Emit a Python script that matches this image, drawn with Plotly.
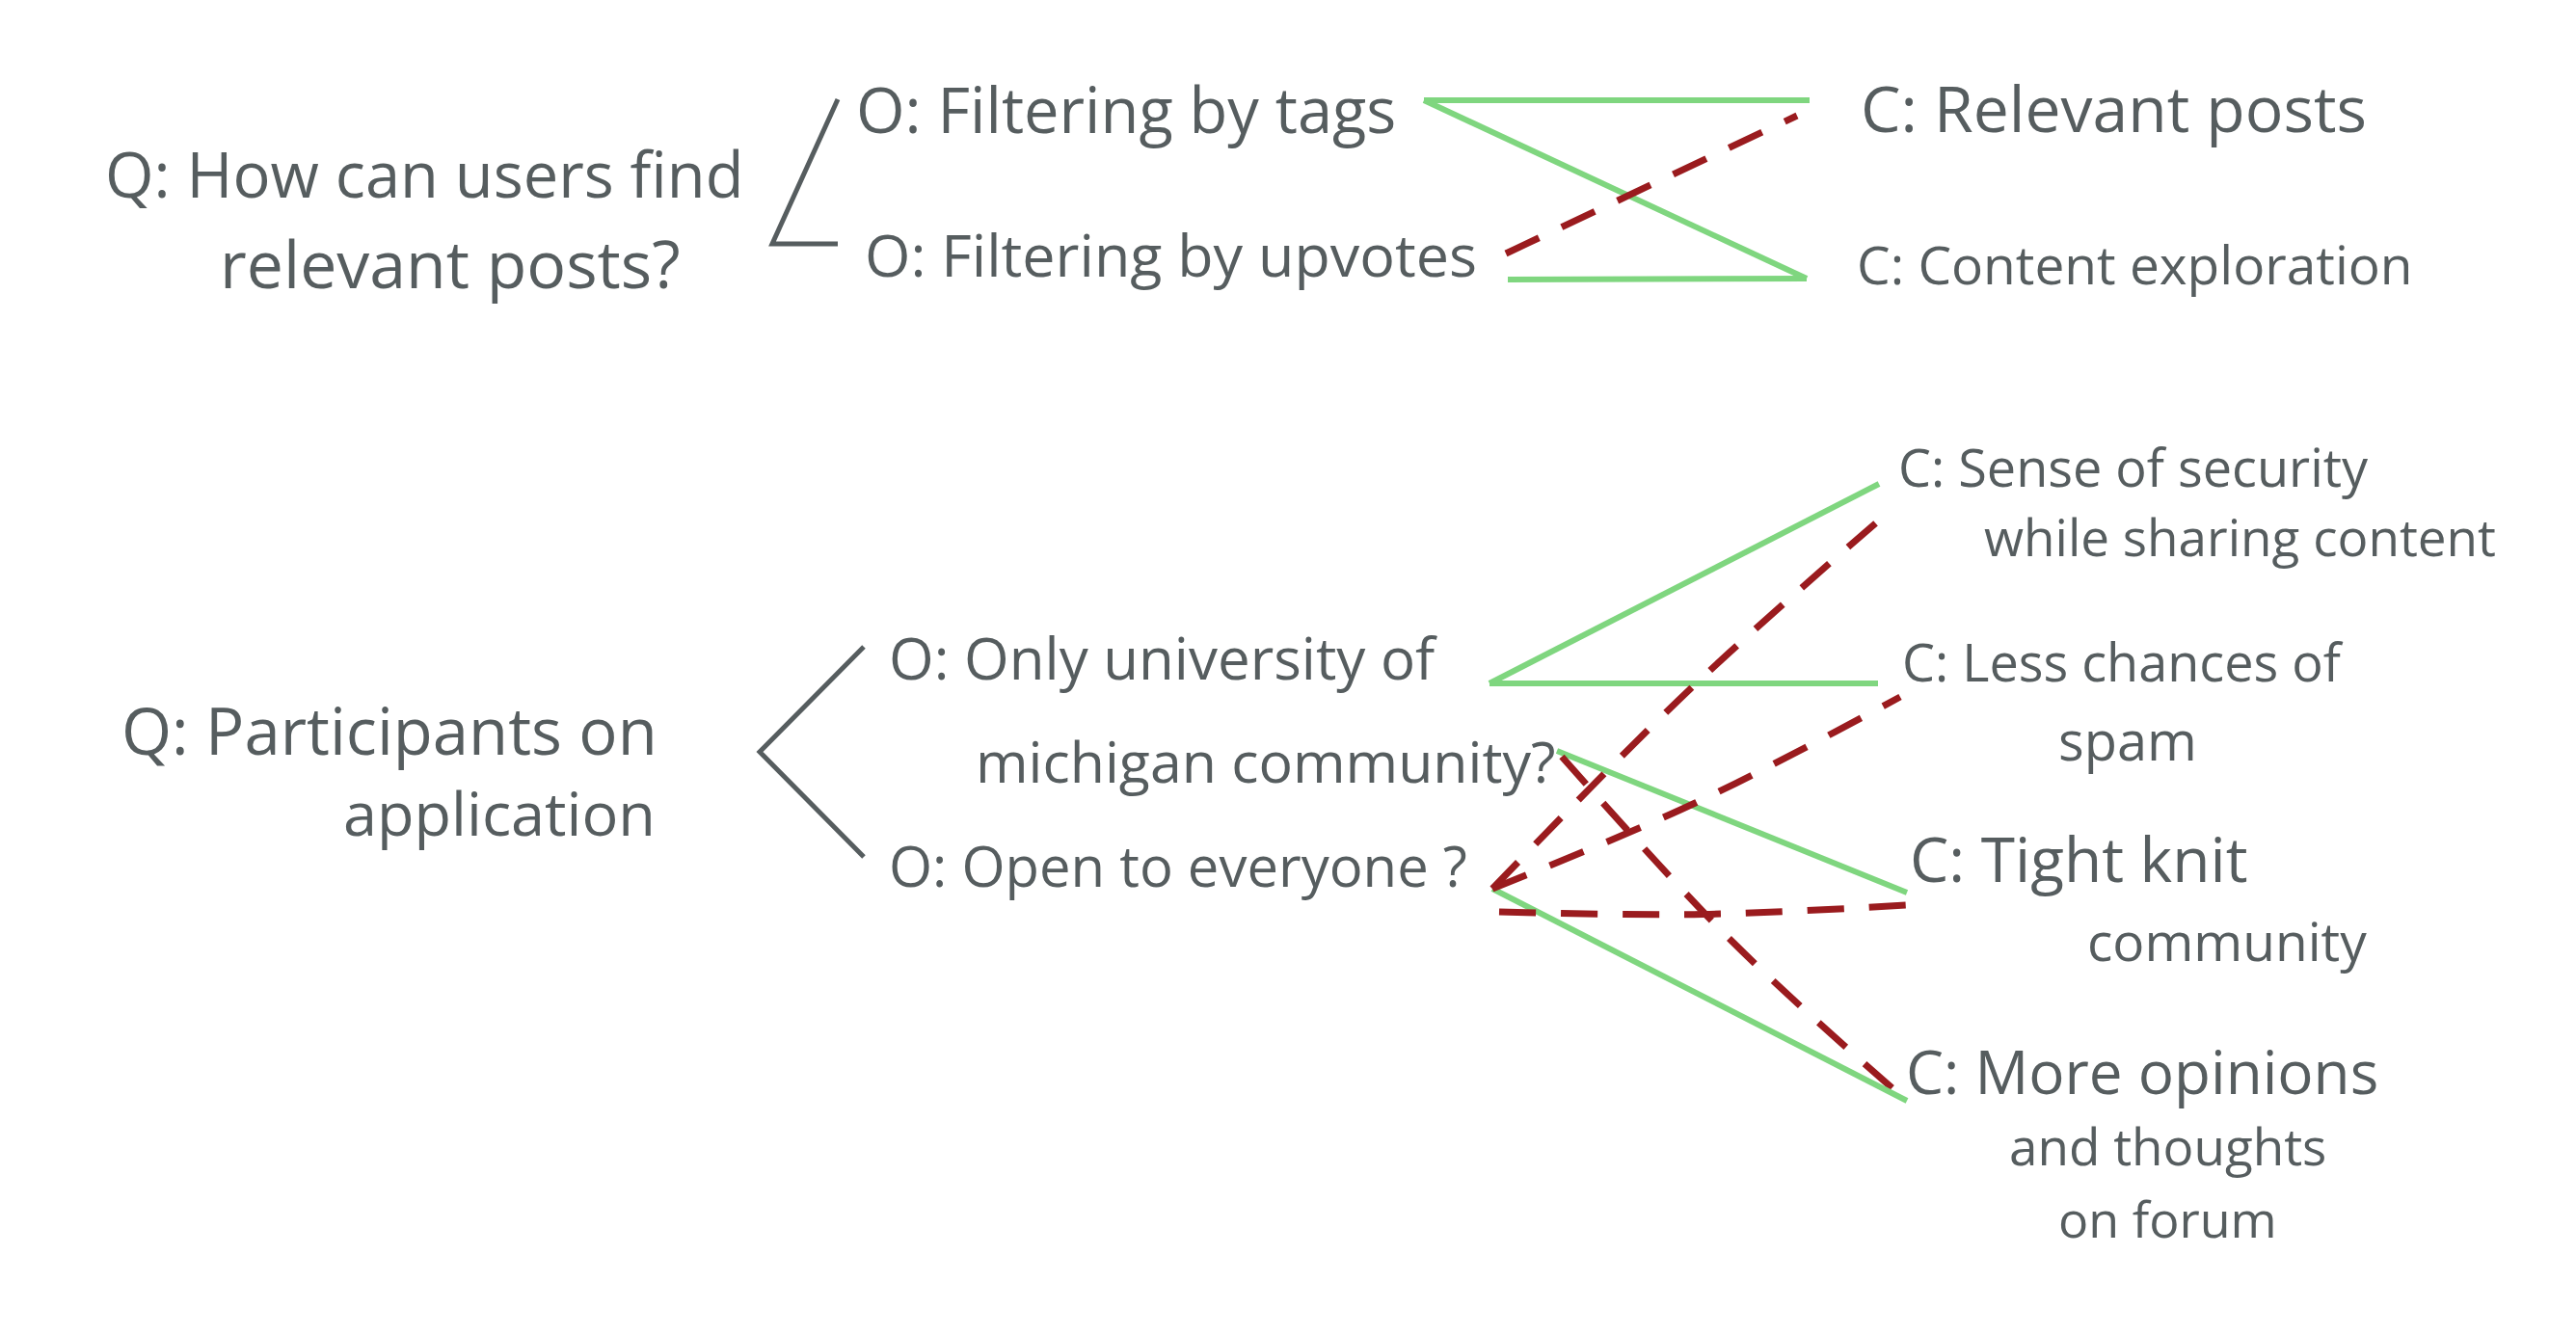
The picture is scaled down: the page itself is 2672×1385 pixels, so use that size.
import plotly.graph_objects as go

# Cores
COLORS = {
    'texto': '#565d5f',
    'pro': '#7fd67f',
    'contra': '#9a1b1e',
}
FONT = "Open Sans"

# ---- Conteudo do diagrama (questao -> opcoes -> criterios) ----
questions = [
    ["Q: How can users find", "relevant posts?"],
    ["Q: Participants on", "application"],
]
options = [
    ["O: Filtering by tags"],
    ["O: Filtering by upvotes"],
    ["O: Only university of", "michigan community?"],
    ["O: Open to everyone ?"],
]
option_question = [0, 0, 1, 1]
criteria = [
    ["C: Relevant posts"],
    ["C: Content exploration"],
    ["C: Sense of security", "while sharing content"],
    ["C: Less chances of", "spam"],
    ["C: Tight knit", "community"],
    ["C: More opinions", "and thoughts", "on forum"],
]
# ligacoes opcao -> criterio ('+' apoia, '-' contraria)
link_from = [0, 0, 1, 1, 2, 2, 2, 2, 3, 3, 3, 3]
link_to = [0, 1, 1, 0, 2, 3, 4, 5, 5, 2, 3, 4]
link_kind = ['+', '+', '+', '-', '+', '+', '+', '-', '+', '-', '-', '-']

# ---- Layout (coordenadas = pixels da pagina) ----
W, H = 2672, 1385
PAD = 8  # margem padrao do <body>

Q_POS = [[(111, 203), (230, 296)], [(128, 780), (358, 865)]]
Q_FS = [[65, 68], [67, 63]]
O_POS = [[(890, 136)], [(899, 285)], [(924, 703), (1014, 810)], [(924, 918)]]
O_FS = [[65], [61], [60, 59], [58]]
C_POS = [[(1932, 134)], [(1928, 293)], [(1971, 503), (2060, 575)],
         [(1975, 705), (2137, 787)], [(1983, 913), (2167, 995)],
         [(1979, 1133), (2086, 1207), (2137, 1282)]]
C_FS = [[66], [55], [54, 53], [54, 56], [64, 55], [62, 53, 52]]

Q_FORK = [(801, 253), (788, 780)]
O_IN = [(869, 103), (869, 253), (896, 671), (896, 889)]
O_OUT = [
    [(1477, 104)],
    [(1564, 290), (1562, 263)],
    [(1545, 709), (1615, 779), (1620, 785)],
    [(1548, 922), (1555, 946)],
]
C_IN = [
    [(1877, 104), (1864, 120)],
    [(1874, 289)],
    [(1949, 502), (1958, 532)],
    [(1948, 709), (1971, 723)],
    [(1978, 926), (1978, 939)],
    [(1978, 1142), (1972, 1137)],
]
LINK_PORT_FROM = [0, 0, 0, 1, 0, 0, 1, 2, 0, 0, 0, 1]
LINK_PORT_TO = [0, 0, 0, 1, 0, 0, 0, 1, 0, 1, 1, 1]
LINK_BEND = [0, 0, 0, 0, 0, 0, 0, 15, 0, -12, 10, 6]

fig = go.Figure()

# colchetes questao -> opcoes
for qi, fork in enumerate(Q_FORK):
    opts = [i for i, q in enumerate(option_question) if q == qi]
    xs = [O_IN[opts[0]][0], fork[0], O_IN[opts[-1]][0]]
    ys = [O_IN[opts[0]][1], fork[1], O_IN[opts[-1]][1]]
    fig.add_trace(go.Scatter(x=xs, y=ys, mode='lines', hoverinfo='skip',
                             line=dict(color=COLORS['texto'], width=5)))

# ligacoes
for i in range(len(link_from)):
    a = O_OUT[link_from[i]][LINK_PORT_FROM[i]]
    b = C_IN[link_to[i]][LINK_PORT_TO[i]]
    pro = link_kind[i] == '+'
    if LINK_BEND[i]:
        mid = ((a[0] + b[0]) / 2, (a[1] + b[1]) / 2 + LINK_BEND[i])
        xs, ys, shape = [a[0], mid[0], b[0]], [a[1], mid[1], b[1]], 'spline'
    else:
        xs, ys, shape = [a[0], b[0]], [a[1], b[1]], 'linear'
    fig.add_trace(go.Scatter(
        x=xs, y=ys, mode='lines', hoverinfo='skip',
        line=dict(color=COLORS['pro'] if pro else COLORS['contra'],
                  width=6 if pro else 7, shape=shape,
                  dash='solid' if pro else '38px,26px')))

# textos
def add_lines(labels, positions, sizes):
    for lines, pos, fss in zip(labels, positions, sizes):
        for txt, (x, base), fs in zip(lines, pos, fss):
            fig.add_annotation(x=x - 4, y=base - 0.35 * fs, text=txt, showarrow=False,
                               xanchor='left', yanchor='middle',
                               font=dict(family=FONT, size=fs, color=COLORS['texto']))

add_lines(questions, Q_POS, Q_FS)
add_lines(options, O_POS, O_FS)
add_lines(criteria, C_POS, C_FS)

fig.update_layout(
    width=W - 2 * PAD, height=H - 2 * PAD,
    margin=dict(l=0, r=0, t=0, b=0),
    showlegend=False,
    paper_bgcolor='white', plot_bgcolor='white',
    xaxis=dict(range=[PAD, W - PAD], visible=False, fixedrange=True),
    yaxis=dict(range=[H - PAD, PAD], visible=False, fixedrange=True),
)

fig.write_html("out.html")
